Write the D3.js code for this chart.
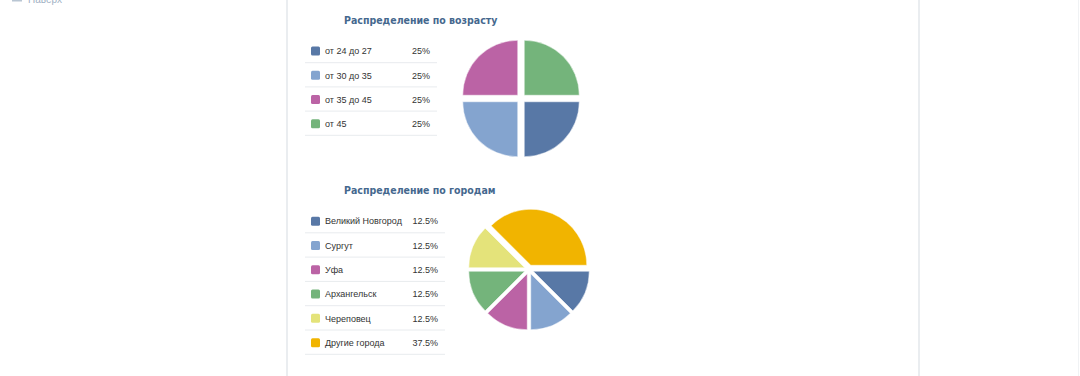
<!DOCTYPE html>
<html>
<head>
<meta charset="utf-8">
<script src="https://cdn.jsdelivr.net/npm/d3@7"></script>
<style>
  html, body { margin: 0; padding: 0; background: #fff; }
  svg { display: block; }
  text { font-family: "DejaVu Sans Condensed", "DejaVu Sans", sans-serif; }
  text.leg { font-family: "Liberation Sans", Arial, sans-serif; }
</style>
</head>
<body>
<svg id="chart" width="1080" height="376"></svg>
<script>
// ---- data ----
const ageTitle = "Распределение по возрасту";
const ageCategories = ["от 24 до 27", "от 30 до 35", "от 35 до 45", "от 45"];
const ageValues = [25, 25, 25, 25];
const ageLabels = ["25%", "25%", "25%", "25%"];

const cityTitle = "Распределение по городам";
const cityCategories = ["Великий Новгород", "Сургут", "Уфа", "Архангельск", "Череповец", "Другие города"];
const cityValues = [12.5, 12.5, 12.5, 12.5, 12.5, 37.5];
const cityLabels = ["12.5%", "12.5%", "12.5%", "12.5%", "12.5%", "37.5%"];

const palette = ["#5878a6", "#84a4cf", "#bb63a5", "#74b47b", "#e4e37a", "#f1b400"];

// ---- layout ----
const svg = d3.select("#chart");

// page frame
svg.append("line").attr("x1", 287).attr("x2", 287).attr("y1", 0).attr("y2", 376)
  .attr("stroke", "#e3e7eb").attr("stroke-width", 1.5);
svg.append("line").attr("x1", 919).attr("x2", 919).attr("y1", 0).attr("y2", 376)
  .attr("stroke", "#e3e7eb").attr("stroke-width", 1.5);
svg.append("line").attr("x1", 1078.5).attr("x2", 1078.5).attr("y1", 0).attr("y2", 376)
  .attr("stroke", "#f0f2f4").attr("stroke-width", 1);

// "Наверх" link, partly cut off at top as in the reference
svg.append("rect").attr("x", 12).attr("y", -1).attr("width", 10).attr("height", 2.5).attr("fill", "#b9c6d3");
svg.append("text").attr("class", "leg").attr("x", 28).attr("y", 3).attr("font-size", 10).attr("fill", "#9fb1c4").text("Наверх");

function drawBlock(opts) {
  const g = svg.append("g");
  g.append("text")
    .attr("x", opts.titleX).attr("y", opts.titleY)
    .attr("font-size", 10.5).attr("font-weight", "bold")
    .attr("fill", "#45688e")
    .text(opts.title);

  const rows = d3.scaleBand()
    .domain(opts.categories)
    .range([opts.legendTop, opts.legendTop + opts.rowH * opts.categories.length]);

  const row = g.selectAll("g.row").data(opts.categories).join("g").attr("class", "row")
    .attr("transform", d => `translate(0,${rows(d)})`);
  row.append("rect")
    .attr("x", 311).attr("y", opts.rowH / 2 - 4.5)
    .attr("width", 9).attr("height", 9).attr("rx", 1.5)
    .attr("fill", (d, i) => palette[i]);
  row.append("text").attr("class", "leg")
    .attr("x", 325).attr("y", opts.rowH / 2 + 3.3)
    .attr("font-size", 9).attr("fill", "#333")
    .text(d => d);
  row.append("text").attr("class", "leg")
    .attr("x", opts.legendRight - 7).attr("y", opts.rowH / 2 + 3.3)
    .attr("text-anchor", "end")
    .attr("font-size", 9).attr("fill", "#333")
    .text((d, i) => opts.labels[i]);
  row.append("line")
    .attr("x1", 305).attr("x2", opts.legendRight)
    .attr("y1", rows.bandwidth() - 0.5).attr("y2", rows.bandwidth() - 0.5)
    .attr("stroke", "#e8ebee").attr("stroke-width", 1);

  const pie = d3.pie().sort(null).value(d => d)
    .startAngle(Math.PI / 2).endAngle(Math.PI / 2 + 2 * Math.PI);
  const arc = d3.arc().innerRadius(0).outerRadius(opts.r);
  const arcs = pie(opts.values);
  const pg = g.append("g").attr("transform", `translate(${opts.cx},${opts.cy})`);
  pg.selectAll("path").data(arcs).join("path")
    .attr("d", arc)
    .attr("fill", (d, i) => palette[i])
    .attr("stroke", "#fff").attr("stroke-width", 0.5)
    .attr("transform", d => {
      const a = (d.startAngle + d.endAngle) / 2;
      return `translate(${Math.sin(a) * opts.offset},${-Math.cos(a) * opts.offset})`;
    });
}

drawBlock({
  title: ageTitle, titleX: 344, titleY: 24,
  categories: ageCategories, values: ageValues, labels: ageLabels,
  legendTop: 39, rowH: 24.2, legendRight: 437,
  cx: 521, cy: 98.5, r: 55, offset: 4.6
});

drawBlock({
  title: cityTitle, titleX: 344, titleY: 194,
  categories: cityCategories, values: cityValues, labels: cityLabels,
  legendTop: 209, rowH: 24.3, legendRight: 445,
  cx: 529, cy: 269.5, r: 56, offset: 4.6
});
</script>
</body>
</html>
